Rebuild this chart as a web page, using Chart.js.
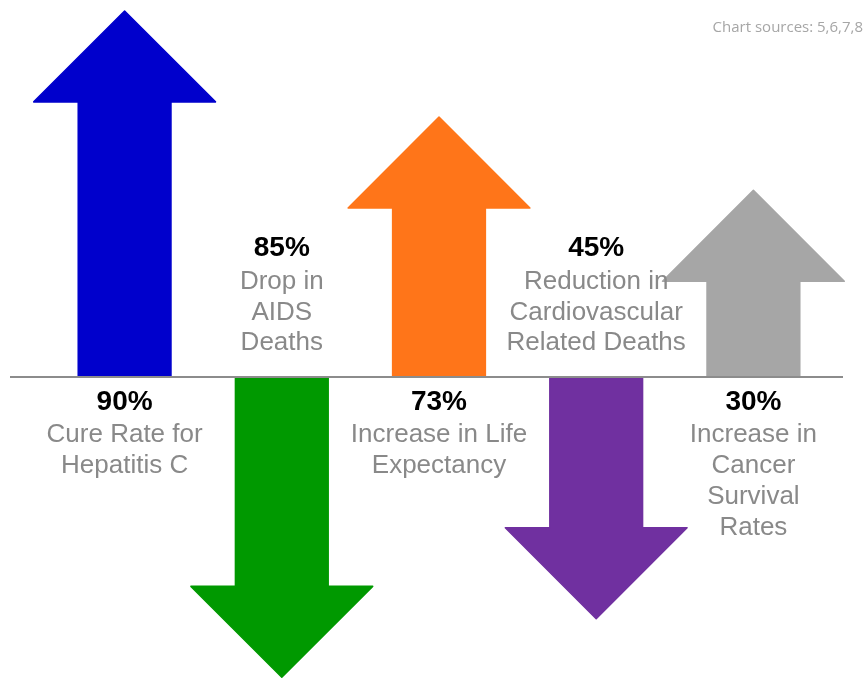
<!DOCTYPE html>
<html><head><meta charset="utf-8">
<script src="https://cdn.jsdelivr.net/npm/chart.js@4"></script>
<style>html,body{margin:0;padding:0;background:#fff}#wrap{width:866px;height:678px;position:relative}</style>
</head><body><div id="wrap"><canvas id="c" width="866" height="678"></canvas></div>
<script>
const categories = ['Hepatitis C', 'AIDS Deaths', 'Life Expectancy', 'Cardiovascular Deaths', 'Cancer Survival'];
const percentLabels = ['90%', '85%', '73%', '45%', '30%'];
const descriptions = [
  ['Cure Rate for', 'Hepatitis C'],
  ['Drop in', 'AIDS', 'Deaths'],
  ['Increase in Life', 'Expectancy'],
  ['Reduction in', 'Cardiovascular', 'Related Deaths'],
  ['Increase in', 'Cancer', 'Survival', 'Rates']
];
// relative drawn arrow length (blue = 100), negative = downward arrow
const arrowLength = [100, -82, 71, -66, 51];
const colors = ['#0000CC', '#009900', '#FF7519', '#7030A0', '#A6A6A6'];
const sourceNote = 'Chart sources: 5,6,7,8';

const arrowPlugin = {
  id: 'arrows',
  beforeDatasetsDraw(chart) {
    const ctx = chart.ctx;
    const meta = chart.getDatasetMeta(0);
    const y0 = chart.scales.y.getPixelForValue(0);
    ctx.save();
    meta.data.forEach((bar, i) => {
      const p = bar.getProps(['x', 'y', 'base', 'width'], true);
      const x = p.x, tip = p.y, width = p.width;
      const dir = tip < p.base ? -1 : 1;
      const base = p.base + dir * 1;
      const hw = width / 2, hh = width * 0.98;
      const neck = tip - dir * hh;
      ctx.fillStyle = colors[i];
      ctx.strokeStyle = colors[i];
      ctx.lineJoin = 'round';
      ctx.lineWidth = 1.5;
      ctx.beginPath();
      ctx.moveTo(x - hw, base);
      ctx.lineTo(x - hw, neck);
      ctx.lineTo(x - hh, neck);
      ctx.lineTo(x, tip);
      ctx.lineTo(x + hh, neck);
      ctx.lineTo(x + hw, neck);
      ctx.lineTo(x + hw, base);
      ctx.closePath();
      ctx.fill();
      ctx.stroke();
    });
    // baseline
    ctx.strokeStyle = '#8c8c8c';
    ctx.lineWidth = 2;
    ctx.beginPath();
    ctx.moveTo(10, y0);
    ctx.lineTo(843, y0);
    ctx.stroke();
    // labels
    ctx.textAlign = 'center';
    ctx.textBaseline = 'middle';
    meta.data.forEach((bar, i) => {
      const p = bar.getProps(['x', 'y', 'base'], true);
      const up = p.y < p.base;
      const lines = descriptions[i];
      let boldY, firstY;
      if (up) {
        boldY = y0 + 25;
        firstY = boldY + 33;
      } else {
        const lastY = y0 - 34;
        firstY = lastY - 30.5 * (lines.length - 1);
        boldY = firstY - 33.5;
      }
      ctx.fillStyle = '#000';
      ctx.font = 'bold 28px "Liberation Sans", Arial, sans-serif';
      ctx.fillText(percentLabels[i], p.x, boldY);
      ctx.fillStyle = '#898989';
      ctx.font = '26px "Liberation Sans", Arial, sans-serif';
      lines.forEach((t, k) => ctx.fillText(t, p.x, firstY + (up ? 31 : 30.5) * k));
    });
    // source note
    ctx.textAlign = 'right';
    ctx.fillStyle = '#a6a6a6';
    ctx.font = '15px "Open Sans", sans-serif';
    ctx.fillText(sourceNote, 863, 28);
    ctx.restore();
    return false;
  }
};

new Chart(document.getElementById('c'), {
  type: 'bar',
  data: {
    labels: categories,
    datasets: [{ data: arrowLength, backgroundColor: colors, barPercentage: 0.59, categoryPercentage: 1 }]
  },
  options: {
    responsive: false,
    animation: false,
    layout: { padding: { left: 46, right: 34, top: 0, bottom: 0 } },
    plugins: { legend: { display: false }, tooltip: { enabled: false } },
    scales: {
      x: { display: false },
      y: { display: false, min: -82.2, max: 103 }
    }
  },
  plugins: [arrowPlugin]
});
</script>
</body></html>
